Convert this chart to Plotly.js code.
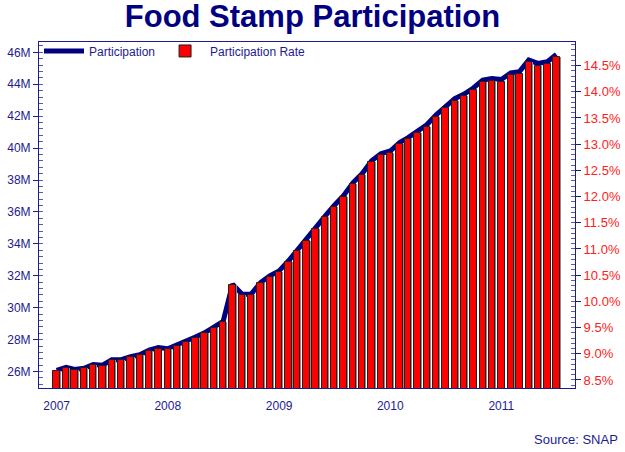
<!DOCTYPE html>
<html>
<head>
<meta charset="utf-8">
<script src="https://cdn.plot.ly/plotly-3.0.1.min.js"></script>
<style>
  html, body { margin: 0; padding: 0; background: #ffffff; }
  #chart { width: 625px; height: 452px; }
</style>
</head>
<body>
<div id="chart"></div>
<script>
// Food stamp participation (millions, left axis) and participation rate (% of population, right axis).
const MONTHS = [
  "2007-01", "2007-02", "2007-03", "2007-04", "2007-05", "2007-06", "2007-07", "2007-08", "2007-09", "2007-10", "2007-11", "2007-12",
  "2008-01", "2008-02", "2008-03", "2008-04", "2008-05", "2008-06", "2008-07", "2008-08", "2008-09", "2008-10", "2008-11", "2008-12",
  "2009-01", "2009-02", "2009-03", "2009-04", "2009-05", "2009-06", "2009-07", "2009-08", "2009-09", "2009-10", "2009-11", "2009-12",
  "2010-01", "2010-02", "2010-03", "2010-04", "2010-05", "2010-06", "2010-07", "2010-08", "2010-09", "2010-10", "2010-11", "2010-12",
  "2011-01", "2011-02", "2011-03", "2011-04", "2011-05", "2011-06", "2011-07",
];

const PARTICIPATION = [
  26.08, 26.27, 26.13, 26.21, 26.44, 26.40, 26.74, 26.74, 26.93, 27.05, 27.34, 27.50,
  27.43, 27.66, 27.89, 28.16, 28.43, 28.77, 29.15, 31.48, 30.85, 30.85, 31.58, 31.99,
  32.31, 32.94, 33.62, 34.26, 34.98, 35.74, 36.41, 37.04, 37.84, 38.41, 39.21, 39.65,
  39.82, 40.35, 40.66, 41.04, 41.46, 42.09, 42.62, 43.10, 43.39, 43.77, 44.26, 44.36,
  44.30, 44.72, 44.78, 45.52, 45.31, 45.41, 45.87,
];

const PARTICIPATION_RATE = [
  8.68, 8.73, 8.69, 8.72, 8.79, 8.77, 8.88, 8.88, 8.93, 8.97, 9.06, 9.10,
  9.09, 9.15, 9.23, 9.31, 9.39, 9.49, 9.61, 10.31, 10.12, 10.12, 10.35, 10.47,
  10.57, 10.76, 10.96, 11.16, 11.38, 11.61, 11.81, 12.00, 12.24, 12.41, 12.66, 12.79,
  12.84, 13.00, 13.09, 13.21, 13.33, 13.52, 13.69, 13.83, 13.92, 14.03, 14.18, 14.21,
  14.19, 14.32, 14.34, 14.56, 14.50, 14.53, 14.67,
];

const YEAR_TICKS = ["2007-01-01", "2008-01-01", "2009-01-01", "2010-01-01", "2011-01-01"];
const YEAR_LABELS = ["2007", "2008", "2009", "2010", "2011"];

const NAVY = "#000080";
const AXIS_BLUE = "#1c1c8f";
const RATE_RED = "#ff2020";
const FONT = "'Liberation Sans', Arial, Helvetica, sans-serif";

const DAY_MS = 86400000;
const BAR_WIDTH = 21 * DAY_MS;
const SHADOW_SHIFT = 3 * DAY_MS;

const data = [
  {
    type: "scatter",
    mode: "lines",
    name: "Participation",
    x: MONTHS,
    y: PARTICIPATION,
    yaxis: "y",
    line: { color: NAVY, width: 5 },
    hovertemplate: "%{x|%b %Y}: %{y:.2f}M<extra></extra>",
  },
  {
    // thin grey drop shadow right of each bar
    type: "bar",
    name: "shadow",
    showlegend: false,
    hoverinfo: "skip",
    x: MONTHS,
    y: PARTICIPATION_RATE,
    yaxis: "y2",
    width: BAR_WIDTH,
    offset: -BAR_WIDTH / 2 + SHADOW_SHIFT,
    marker: { color: "#8c8c8c", line: { width: 0 } },
  },
  {
    type: "bar",
    name: "Participation Rate",
    x: MONTHS,
    y: PARTICIPATION_RATE,
    yaxis: "y2",
    width: BAR_WIDTH,
    offset: -BAR_WIDTH / 2,
    marker: { color: "#ff0000", line: { color: "#202020", width: 1 } },
    hovertemplate: "%{x|%b %Y}: %{y:.2f}%<extra></extra>",
  },
];

const layout = {
  width: 625,
  height: 452,
  margin: { l: 39, r: 50, t: 42, b: 64 },
  paper_bgcolor: "#ffffff",
  plot_bgcolor: "#ffffff",
  font: { family: FONT, color: AXIS_BLUE, size: 12 },
  title: {
    text: "<b>Food Stamp Participation</b>",
    font: { family: FONT, size: 31, color: NAVY },
    x: 0.5,
    xanchor: "center",
    y: 1 - 16 / 452,
    yanchor: "middle",
    yref: "container",
  },
  barmode: "overlay",
  bargap: 0,
  showlegend: true,
  legend: {
    orientation: "h",
    x: 0,
    y: 1.016,
    xanchor: "left",
    yanchor: "top",
    bgcolor: "rgba(0,0,0,0)",
    font: { family: FONT, size: 12, color: AXIS_BLUE },
    itemwidth: 40,
    tracegroupgap: 0,
  },
  xaxis: {
    type: "date",
    range: ["2006-11-04", "2011-08-31"],
    tickvals: YEAR_TICKS,
    ticktext: YEAR_LABELS,
    ticks: "outside",
    ticklen: 7,
    tickcolor: "rgba(0,0,0,0)",
    showgrid: false,
    zeroline: false,
    showline: true,
    linecolor: AXIS_BLUE,
    linewidth: 1,
    mirror: true,
    tickfont: { family: FONT, size: 12, color: AXIS_BLUE },
  },
  yaxis: {
    range: [24.97, 46.65],
    tickmode: "linear",
    tick0: 26,
    dtick: 2,
    ticksuffix: "M",
    ticks: "outside",
    ticklen: 5,
    tickcolor: AXIS_BLUE,
    minor: { dtick: 0.4, ticks: "inside", ticklen: 4, tickcolor: "#5a5aa8", showgrid: false },
    showgrid: false,
    zeroline: false,
    showline: true,
    linecolor: AXIS_BLUE,
    linewidth: 1,
    tickfont: { family: FONT, size: 12, color: AXIS_BLUE },
  },
  yaxis2: {
    overlaying: "y",
    side: "right",
    range: [8.347, 14.95],
    tickmode: "linear",
    tick0: 8.5,
    dtick: 0.5,
    tickformat: ".1f",
    ticksuffix: "%",
    ticks: "outside",
    ticklen: 5,
    tickcolor: AXIS_BLUE,
    minor: { dtick: 0.1, ticks: "inside", ticklen: 4, tickcolor: "#5a5aa8", showgrid: false },
    showgrid: false,
    zeroline: false,
    showline: true,
    linecolor: AXIS_BLUE,
    linewidth: 1,
    tickfont: { family: FONT, size: 13, color: RATE_RED },
  },
  annotations: [
    {
      text: "Source: SNAP",
      xref: "paper",
      yref: "paper",
      x: 1.084,
      y: -0.15,
      xanchor: "right",
      yanchor: "middle",
      showarrow: false,
      font: { family: FONT, size: 13, color: AXIS_BLUE },
    },
  ],
};

Plotly.newPlot("chart", data, layout, { displayModeBar: false, responsive: false });
</script>
</body>
</html>
